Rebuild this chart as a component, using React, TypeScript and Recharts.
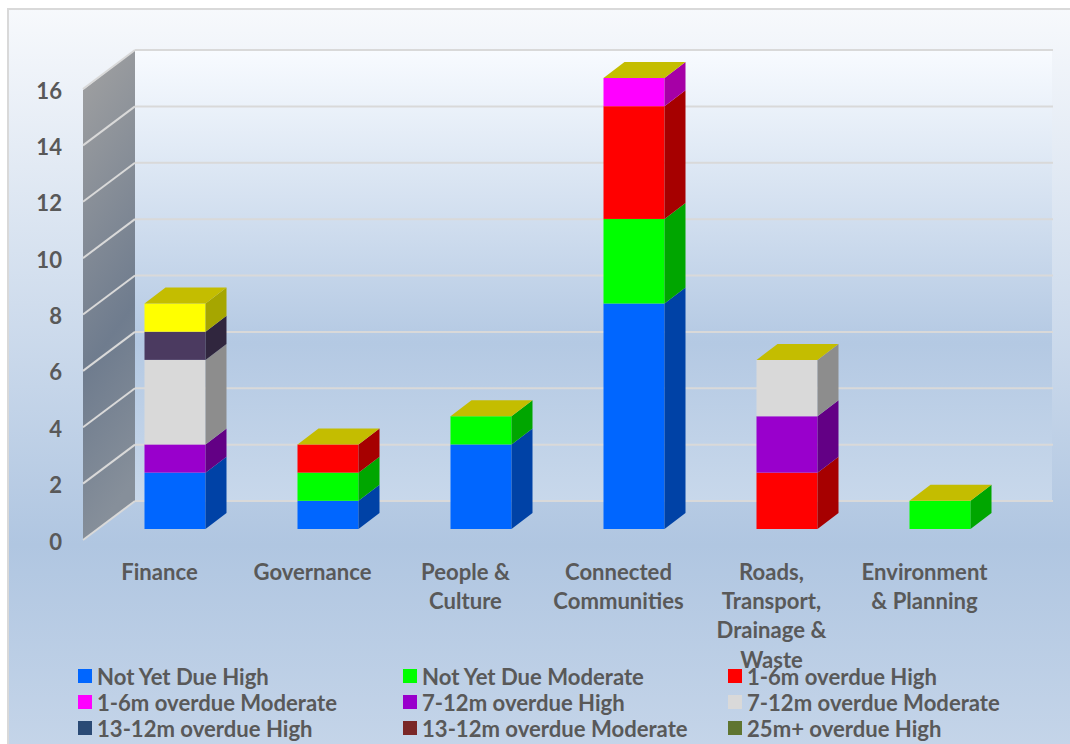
import React from "react";
import { Bar, BarChart, CartesianGrid, Legend, XAxis, YAxis } from "recharts";

// Risk counts per portfolio, split by ageing band and rating.
const categories = [
  "Finance",
  "Governance",
  "People &\nCulture",
  "Connected\nCommunities",
  "Roads,\nTransport,\nDrainage &\nWaste",
  "Environment\n& Planning",
];
const notYetDueHigh = [2, 1, 3, 8, 0, 0];
const notYetDueModerate = [0, 1, 1, 3, 0, 1];
const overdue1to6High = [0, 1, 0, 4, 2, 0];
const overdue1to6Moderate = [0, 0, 0, 1, 0, 0];
const overdue7to12High = [1, 0, 0, 0, 2, 0];
const overdue7to12Moderate = [3, 0, 0, 0, 2, 0];
const overdue13to12High = [0, 0, 0, 0, 0, 0];
const overdue13to12Moderate = [0, 0, 0, 0, 0, 0];
const overdue25High = [0, 0, 0, 0, 0, 0];
const overdue25Moderate = [1, 0, 0, 0, 0, 0];
const overdueOther = [1, 0, 0, 0, 0, 0];
const yTicks = [0, 2, 4, 6, 8, 10, 12, 14, 16];

const seriesDefs = [
  { key: "a", name: "Not Yet Due High", values: notYetDueHigh, fill: "#0066ff", side: "#0042a6", legend: true },
  { key: "b", name: "Not Yet Due Moderate", values: notYetDueModerate, fill: "#00ff00", side: "#00a600", legend: true },
  { key: "c", name: "1-6m overdue High", values: overdue1to6High, fill: "#ff0000", side: "#a60000", legend: true },
  { key: "d", name: "1-6m overdue Moderate", values: overdue1to6Moderate, fill: "#ff00ff", side: "#a600a6", legend: true },
  { key: "e", name: "7-12m overdue High", values: overdue7to12High, fill: "#9900cc", side: "#630085", legend: true },
  { key: "f", name: "7-12m overdue Moderate", values: overdue7to12Moderate, fill: "#d9d9d9", side: "#8d8d8d", legend: true },
  { key: "g", name: "13-12m overdue High", values: overdue13to12High, fill: "#2a4a75", side: "#1b304c", legend: true },
  { key: "h", name: "13-12m overdue Moderate", values: overdue13to12Moderate, fill: "#7a2727", side: "#4f1919", legend: true },
  { key: "i", name: "25m+ overdue High", values: overdue25High, fill: "#5f7530", side: "#3e4c1f", legend: true },
  { key: "j", name: "25m+ overdue Moderate", values: overdue25Moderate, fill: "#4b3a60", side: "#30263e", legend: false },
  { key: "k", name: "Other overdue", values: overdueOther, fill: "#ffff00", side: "#a6a600", legend: false },
];

const tableRows = categories.map((name, i) => {
  const row: Record<string, string | number> = { name };
  seriesDefs.forEach((s) => {
    row[s.key] = s.values[i];
  });
  return row;
});

const WIDTH = 1070;
const HEIGHT = 744;
const FONT = "Lato, Carlito, sans-serif";
const FONT_SIZE = 22.1;
const TEXT_COLOR = "#595959";
const GRID_COLOR = "#d9d9d9";
const TOP_FACE = "#c4bd00";
const BAR_DEPTH_X = 21;
const BAR_DEPTH_Y = 16;
const WALL_BACK_X = 135;
const WALL_FRONT_X = 83;
const WALL_RIGHT_X = 1052;
const BACK_DY = -28;
const FRONT_DY = 11;

// A stacked segment drawn as a box: front face, right side, and a cap on the last series.
function Box3D(props: any) {
  const { x, y, width, height, fill, side, cap } = props;
  const dx = BAR_DEPTH_X;
  const dy = BAR_DEPTH_Y;
  return (
    <g>
      {height > 0 && (
        <>
          <rect x={x} y={y} width={width} height={height} fill={fill} />
          <polygon
            points={`${x + width},${y} ${x + width + dx},${y - dy} ${x + width + dx},${y + height - dy} ${x + width},${y + height}`}
            fill={side}
          />
        </>
      )}
      {cap && (
        <polygon
          points={`${x},${y} ${x + dx},${y - dy} ${x + width + dx},${y - dy} ${x + width},${y}`}
          fill={TOP_FACE}
        />
      )}
    </g>
  );
}

// Gridline on the back wall plus its continuation across the left wall.
function WallGridLine(props: any) {
  const y = props.y1;
  return (
    <g stroke={GRID_COLOR} strokeWidth={2} fill="none">
      <line x1={WALL_BACK_X} y1={y + BACK_DY} x2={WALL_RIGHT_X + 1} y2={y + BACK_DY} />
      <line x1={WALL_BACK_X} y1={y + BACK_DY} x2={WALL_FRONT_X} y2={y + FRONT_DY} />
    </g>
  );
}

function ValueTick(props: any) {
  const { y, payload } = props;
  return (
    <text
      x={62}
      y={y + FRONT_DY + 1}
      textAnchor="end"
      dominantBaseline="central"
      fontFamily={FONT}
      fontWeight={700}
      fontSize={FONT_SIZE}
      fill={TEXT_COLOR}
    >
      {payload.value}
    </text>
  );
}

function CategoryTick(props: any) {
  const { x, payload } = props;
  const lines = String(payload.value).split("\n");
  return (
    <text textAnchor="middle" fontFamily={FONT} fontWeight={700} fontSize={FONT_SIZE} fill={TEXT_COLOR}>
      {lines.map((line, i) => (
        <tspan key={line} x={x - 15.5} y={580 + i * 29.2}>
          {line}
        </tspan>
      ))}
    </text>
  );
}

function LegendGrid(props: any) {
  const items = (props.payload || []).filter((p: any) => p.type !== "none");
  return (
    <div
      style={{
        display: "grid",
        gridTemplateColumns: "325px 325px 325px",
        gridAutoRows: "26px",
        fontFamily: FONT,
        fontWeight: 700,
        fontSize: FONT_SIZE,
        color: TEXT_COLOR,
      }}
    >
      {items.map((item: any) => (
        <div key={item.value} style={{ display: "flex", alignItems: "center", whiteSpace: "nowrap", height: 26 }}>
          <span style={{ width: 14, height: 14, background: item.color, marginRight: 5, flex: "none" }} />
          {item.value}
        </div>
      ))}
    </div>
  );
}

// Page backdrop: panel gradient, back wall and shaded left wall sit behind the transparent chart.
function Backdrop() {
  return (
    <svg width={WIDTH} height={HEIGHT} style={{ position: "absolute", left: 0, top: 0 }}>
      <defs>
        <linearGradient id="panel" x1="0" y1="0" x2="0" y2="1">
          <stop offset="0" stopColor="#f7f9fc" />
          <stop offset="0.72" stopColor="#b0c6e1" />
          <stop offset="1" stopColor="#c5d5e9" />
        </linearGradient>
        <linearGradient id="backWall" x1="0" y1="0" x2="0" y2="1">
          <stop offset="0" stopColor="#f8fbff" />
          <stop offset="0.65" stopColor="#b4c9e3" />
          <stop offset="1" stopColor="#c8d8eb" />
        </linearGradient>
        <linearGradient id="sideWall" x1="0" y1="0" x2="0.15" y2="1">
          <stop offset="0" stopColor="#a2a2a2" />
          <stop offset="0.65" stopColor="#6f7c8e" />
          <stop offset="1" stopColor="#868f9a" />
        </linearGradient>
      </defs>
      <rect x={8} y={9} width={WIDTH} height={HEIGHT} fill="url(#panel)" stroke={GRID_COLOR} strokeWidth={2} />
      <rect x={WALL_BACK_X} y={50} width={WALL_RIGHT_X - WALL_BACK_X} height={451} fill="url(#backWall)" />
      <polygon
        points={`${WALL_FRONT_X},90 ${WALL_BACK_X},50 ${WALL_BACK_X},501 ${WALL_FRONT_X},540`}
        fill="url(#sideWall)"
      />
    </svg>
  );
}

export default function App() {
  return (
    <div style={{ position: "absolute", left: 0, top: 0, width: WIDTH, height: HEIGHT, overflow: "hidden" }}>
      <Backdrop />
      <div style={{ position: "absolute", left: 0, top: 0 }}>
        <BarChart
          width={WIDTH}
          height={HEIGHT}
          data={tableRows}
          margin={{ top: 78, right: 53.5, bottom: 0, left: 0 }}
        >
          <CartesianGrid vertical={false} horizontal={(p: any) => <WallGridLine key={p.key ?? p.y1} {...p} />} />
          <XAxis
            dataKey="name"
            height={215}
            axisLine={false}
            tickLine={false}
            interval={0}
            tick={<CategoryTick />}
          />
          <YAxis
            width={98.5}
            domain={[0, 16]}
            ticks={yTicks}
            axisLine={false}
            tickLine={false}
            tick={<ValueTick />}
          />
          <Legend
            content={<LegendGrid />}
            verticalAlign="middle"
            itemSorter={null}
            wrapperStyle={{ position: "absolute", left: 78, top: 663, width: 980, height: 78 }}
          />
          {seriesDefs.map((s, i) => (
            <Bar
              key={s.key}
              dataKey={s.key}
              name={s.name}
              stackId="risk"
              barSize={61}
              fill={s.fill}
              legendType={s.legend ? "square" : "none"}
              isAnimationActive={false}
              shape={(p: any) => <Box3D {...p} fill={s.fill} side={s.side} cap={i === seriesDefs.length - 1} />}
            />
          ))}
        </BarChart>
      </div>
    </div>
  );
}
